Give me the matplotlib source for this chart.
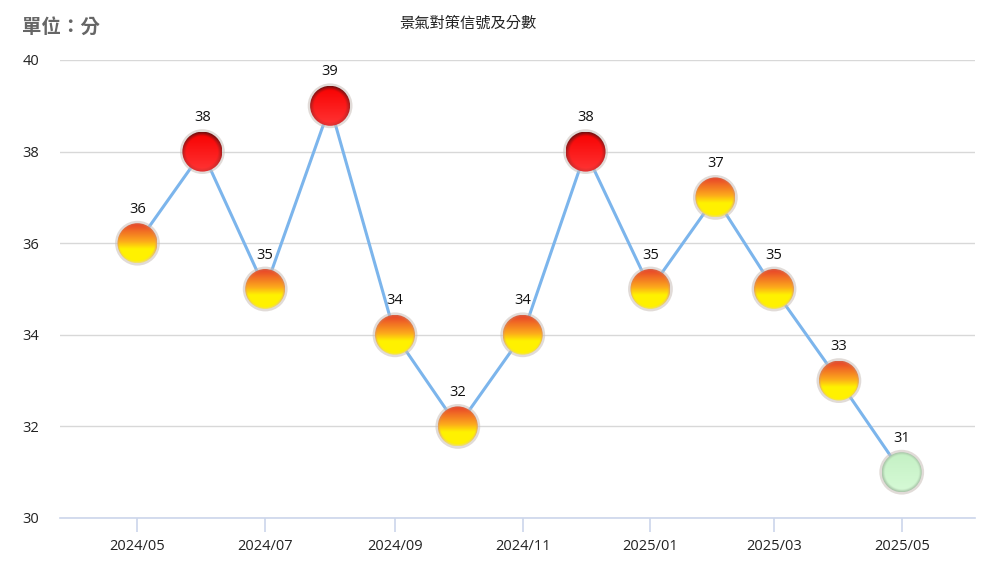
import numpy as np
import matplotlib
matplotlib.use("Agg")
import matplotlib.pyplot as plt
import matplotlib.dates as mdates
from matplotlib.patches import Ellipse
from matplotlib.colors import to_rgb
from datetime import date

months = ["2024-05", "2024-06", "2024-07", "2024-08", "2024-09", "2024-10", "2024-11",
          "2024-12", "2025-01", "2025-02", "2025-03", "2025-04", "2025-05"]
scores = [36, 38, 35, 39, 34, 32, 34, 38, 35, 37, 35, 33, 31]
tick_months = ["2024-05", "2024-07", "2024-09", "2024-11", "2025-01", "2025-03", "2025-05"]

def to_num(s):
    y, m = s.split("-")
    return mdates.date2num(date(int(y), int(m), 1))

xs = [to_num(m) for m in months]

fig = plt.figure(figsize=(9.84, 5.61), dpi=100)
W, H = 984, 561
left, right, top, bottom = 60, 975, 60, 518
ax = fig.add_axes([left / W, 1 - bottom / H, (right - left) / W, (bottom - top) / H])

x0 = mdates.date2num(date(2024, 3, 25))
x1 = mdates.date2num(date(2025, 6, 5))
ax.set_xlim(x0, x1)
ax.set_ylim(30, 40)

for s in ["top", "right", "left"]:
    ax.spines[s].set_visible(False)
ax.spines["bottom"].set_color("#ccd6eb")
ax.spines["bottom"].set_linewidth(1.2)
ax.set_yticks([30, 32, 34, 36, 38, 40])
ax.grid(axis="y", color="#d8d8d8", linewidth=1)
ax.set_axisbelow(True)
ax.tick_params(axis="y", length=0, pad=15, labelsize=10.5, labelcolor="#222222")
ax.set_xticks([to_num(m) for m in tick_months])
ax.set_xticklabels([m.replace("-", "/") for m in tick_months])
ax.tick_params(axis="x", length=10, width=1.2, color="#ccd6eb", pad=5,
               labelsize=10.5, labelcolor="#222222")
for lab in ax.get_xticklabels() + ax.get_yticklabels():
    lab.set_family(["Open Sans", "DejaVu Sans"])

ax.plot(xs, scores, color="#7cb5ec", linewidth=2.2, zorder=2)

# marker radius in pixels converted to data units
rpx = 20
dx = rpx * (x1 - x0) / (right - left)
dy = rpx * 10 / (bottom - top)

n = 80
v, u = np.mgrid[-1:1:n * 1j, -1:1:n * 1j]
r = np.sqrt(u ** 2 + v ** 2)

def blend(c1, c2, t):
    c1 = np.array(to_rgb(c1)); c2 = np.array(to_rgb(c2))
    t = np.clip(t, 0, 1)[..., None]
    return c1 * (1 - t) + c2 * t

def ring(img, edge, start, width):
    w = np.clip((r - start) / width, 0, 1)[..., None]
    return img * (1 - w) + edge * w

def make_img(kind):
    t = (v + 1) / 2  # 0 top -> 1 bottom
    if kind == "red":
        img = blend("#f80000", "#ff3535", t)
        edge = blend("#701010", "#e03030", t)
        img = ring(img, edge, 0.8, 0.2)
    elif kind == "orange":
        img = np.where((t < 0.45)[..., None],
                       blend("#e8402a", "#fca81c", t / 0.45),
                       blend("#fca81c", "#fff200", (t - 0.45) / 0.2))
        edge = blend("#d86040", "#f0e070", t)
        img = ring(img, edge, 0.9, 0.1)
    else:
        img = blend("#c4f0c4", "#d6fad6", t)
        edge = np.array(to_rgb("#a9c6a9")) * np.ones_like(img)
        img = ring(img, edge, 0.86, 0.14)
    return img

def kind_of(s):
    if s >= 38:
        return "red"
    if s >= 32:
        return "orange"
    return "green"

for x, y in zip(xs, scores):
    k = kind_of(y)
    halo = Ellipse((x, y), 2 * dx * 1.12, 2 * dy * 1.12, facecolor="#c9bfb8",
                   edgecolor="none", alpha=0.55, zorder=3)
    ax.add_patch(halo)
    im = ax.imshow(make_img(k), extent=[x - dx, x + dx, y - dy, y + dy],
                   origin="upper", aspect="auto", zorder=4, interpolation="bilinear")
    clip = Ellipse((x, y), 2 * dx, 2 * dy, transform=ax.transData)
    im.set_clip_path(clip)
    ax.annotate(str(y), (x, y), xytext=(0, 19), textcoords="offset points",
                ha="center", va="bottom", fontsize=10.5, color="#111111",
                family=["Open Sans", "DejaVu Sans"], zorder=5)

ax.set_xlim(x0, x1)
ax.set_ylim(30, 40)

fig.text(22 / W, 1 - 27 / H, "單位：分", fontsize=14, color="#666666",
         fontweight="bold", family=["Noto Sans CJK TC", "DejaVu Sans"], va="center")
fig.text(468 / W, 1 - 23 / H, "景氣對策信號及分數", fontsize=11, color="#222222",
         family=["Noto Sans CJK TC", "DejaVu Sans"], ha="center", va="center")

fig.savefig("out.png", dpi=100)
